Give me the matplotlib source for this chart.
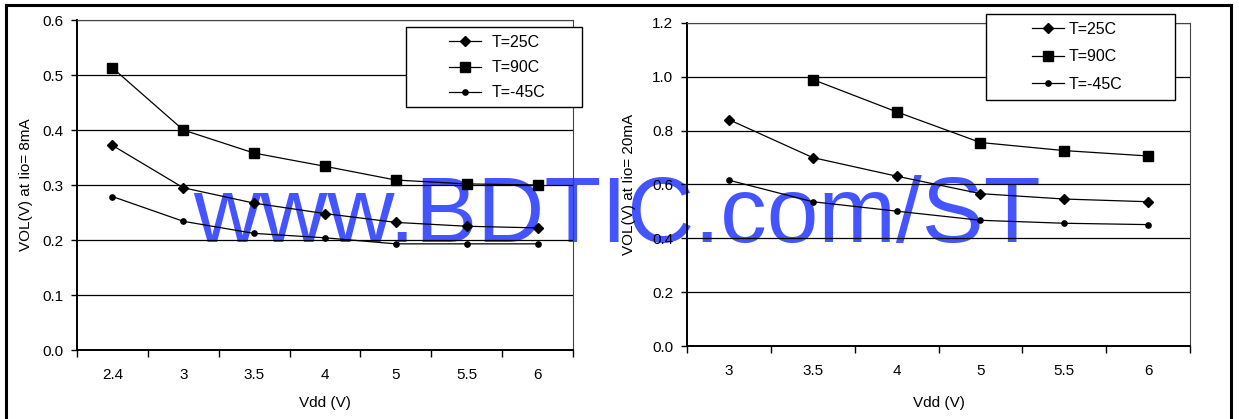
import matplotlib
matplotlib.use("Agg")
import matplotlib.pyplot as plt
import numpy as np
from matplotlib import font_manager
from matplotlib.lines import Line2D
from matplotlib.patches import Rectangle

plt.rcParams['font.family'] = ['Liberation Sans', 'DejaVu Sans']

# --- data ---
vdd_8ma = ["2.4", "3", "3.5", "4", "5", "5.5", "6"]
vol8_t25 = [0.372, 0.295, 0.267, 0.248, 0.232, 0.225, 0.222]
vol8_t90 = [0.513, 0.400, 0.358, 0.334, 0.309, 0.302, 0.300]
vol8_tm45 = [0.279, 0.234, 0.212, 0.204, 0.193, 0.193, 0.193]

vdd_20ma = ["3", "3.5", "4", "5", "5.5", "6"]
vol20_t25 = [0.841, 0.700, 0.631, 0.566, 0.546, 0.536]
vol20_t90 = [np.nan, 0.990, 0.870, 0.756, 0.726, 0.706]
vol20_tm45 = [0.616, 0.536, 0.501, 0.467, 0.456, 0.451]

series_names = ["T=25C", "T=90C", "T=-45C"]
markers = [("D", 5.5), ("s", 7), ("o", 3.8)]

W, H = 1239, 419
fig = plt.figure(figsize=(W / 100, H / 100), dpi=100)


def px(x0, y0, x1, y1):
    # pixel box (top-left origin) -> figure fraction rect
    return [x0 / W, 1 - y1 / H, (x1 - x0) / W, (y1 - y0) / H]


def make_panel(rect, cats, series, ymax, ystep, ylab, ylab_x, xlab_y):
    ax = fig.add_axes(rect)
    ax.patch.set_alpha(0)
    x = np.arange(len(cats))
    for vals, (m, ms), name in zip(series, markers, series_names):
        ax.plot(x, vals, color="black", lw=0.9, marker=m, ms=ms,
                mfc="black", mec="black", label=name, zorder=3)
    ax.set_xlim(-0.5, len(cats) - 0.5)
    ax.set_ylim(0, ymax)
    ax.set_yticks(np.arange(0, ymax + ystep / 2, ystep))
    ax.yaxis.set_major_formatter(matplotlib.ticker.FormatStrFormatter("%.1f"))
    ax.set_xticks(x)
    ax.set_xticklabels(cats)
    ax.set_xticks(np.arange(len(cats) + 1) - 0.5, minor=True)
    ax.tick_params(axis="x", which="major", length=0, pad=13, labelsize=11)
    ax.tick_params(axis="x", which="minor", length=5, width=1, direction="out")
    ax.tick_params(axis="y", length=4, width=1, direction="out", pad=6, labelsize=11)
    ax.grid(axis="y", color="black", lw=0.9)
    ax.set_axisbelow(True)
    for s in ["left", "bottom"]:
        ax.spines[s].set_linewidth(1.4)
    for s in ["top", "right"]:
        ax.spines[s].set_linewidth(0.8)
        ax.spines[s].set_color("#444444")
    ax.set_xlabel("Vdd (V)", fontsize=11)
    ax.set_ylabel(ylab, fontsize=11)
    ax.xaxis.set_label_coords(0.5, xlab_y)
    ax.yaxis.set_label_coords(ylab_x, 0.5)
    return ax


ax1 = make_panel(px(77, 20, 573, 350), vdd_8ma, [vol8_t25, vol8_t90, vol8_tm45],
                 0.6, 0.1, "VOL(V) at Iio= 8mA", -0.089, -0.139)
ax2 = make_panel(px(687, 23, 1190, 346), vdd_20ma, [vol20_t25, vol20_t90, vol20_tm45],
                 1.2, 0.2, "VOL(V) at Iio= 20mA", -0.101, -0.155)

# legends: white box drawn separately, entries on top
for ax, box, anchor, lsp, htp in [(ax1, (406, 27, 582, 107), (449, 35), 0.64, 0.7),
                                   (ax2, (986, 14, 1175, 100), (1032, 22), 0.78, 0.3)]:
    x0, y0, x1, y1 = box
    fig.patches.append(Rectangle((x0 / W, 1 - y1 / H), (x1 - x0) / W, (y1 - y0) / H,
                                 transform=fig.transFigure, fc="white", ec="black",
                                 lw=1.0, zorder=5))
    h, l = ax.get_legend_handles_labels()
    leg = fig.legend(h, l, loc="upper left",
                     bbox_to_anchor=(anchor[0] / W, 1 - anchor[1] / H),
                     frameon=False, fontsize=11.5, handlelength=2.0,
                     handletextpad=htp, labelspacing=lsp, borderpad=0,
                     borderaxespad=0)
    leg.set_zorder(6)

# outer frame of the page
for xs, ys in [([6, 6], [419, 5]), ([6, 1231], [5, 5]), ([1231, 1231], [5, 419])]:
    fig.lines.append(Line2D([v / W for v in xs], [1 - v / H for v in ys],
                            transform=fig.transFigure, color="black", lw=2.2))

# watermark
names = {f.name for f in font_manager.fontManager.ttflist}
wm_font = "Liberation Sans Narrow" if "Liberation Sans Narrow" in names else "Liberation Sans"
wm_size = 82 if wm_font == "Liberation Sans Narrow" else 67
fig.text(193 / W, 1 - 242 / H, "www.BDTIC.com/ST", color="#4455ff",
         fontsize=wm_size, family=[wm_font, "DejaVu Sans"], ha="left",
         va="baseline", zorder=-1)

fig.savefig("out.png", dpi=100, facecolor="white")
